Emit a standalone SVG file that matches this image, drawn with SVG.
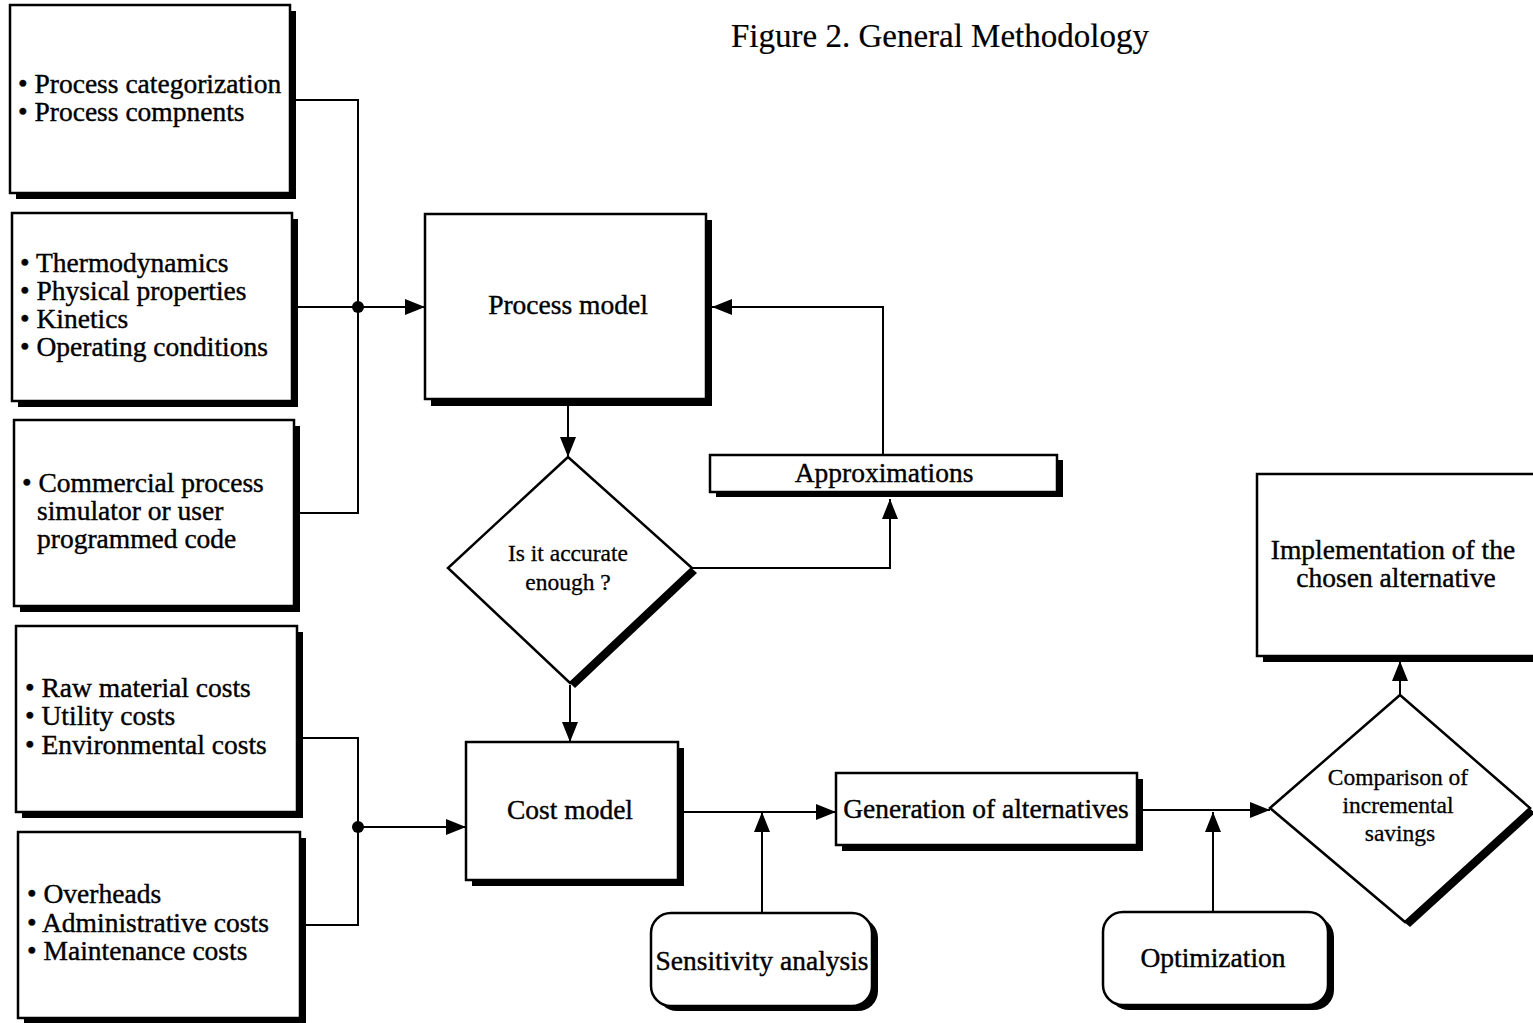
<svg xmlns="http://www.w3.org/2000/svg" width="1533" height="1023" viewBox="0 0 1533 1023">
<defs>
<marker id="arr" viewBox="0 0 20 16" refX="20" refY="8" markerWidth="20" markerHeight="16" markerUnits="userSpaceOnUse" orient="auto">
<path d="M0,0 L20,8 L0,16 z" fill="#000"/>
</marker>
</defs>
<style>
.box{fill:#fff;stroke:#000;stroke-width:2.5}
.sh{fill:#000}
.t{font-family:"Liberation Serif","Times New Roman",serif;font-size:27.5px;fill:#000;stroke:#000;stroke-width:0.4}
.s{font-family:"Liberation Serif","Times New Roman",serif;font-size:23.5px;fill:#000;stroke:#000;stroke-width:0.3}
.c{text-anchor:middle}
.w{fill:none;stroke:#000;stroke-width:2}
</style>
<rect width="1533" height="1023" fill="#fff"/>
<text class="t" x="731" y="47" style="font-size:33px;stroke-width:0.2">Figure 2. General Methodology</text>

<g id="connectors">
<path class="w" d="M296,100 H358 V513 H300"/>
<path class="w" d="M298,307 H358"/>
<path class="w" d="M358,307 H425" marker-end="url(#arr)"/>
<circle cx="358" cy="307" r="6" fill="#000"/>
<path class="w" d="M303,738 H358 V925 H306"/>
<path class="w" d="M358,827 H466" marker-end="url(#arr)"/>
<circle cx="358" cy="827" r="6" fill="#000"/>
<path class="w" d="M568,406 V457" marker-end="url(#arr)"/>
<path class="w" d="M570,685 V742" marker-end="url(#arr)"/>
<path class="w" d="M692,568 H890 V499" marker-end="url(#arr)"/>
<path class="w" d="M883,455 V307 H712" marker-end="url(#arr)"/>
<path class="w" d="M684,812 H836" marker-end="url(#arr)"/>
<path class="w" d="M762,913 V812" marker-end="url(#arr)"/>
<path class="w" d="M1143,810 H1270" marker-end="url(#arr)"/>
<path class="w" d="M1213,912 V812" marker-end="url(#arr)"/>
<path class="w" d="M1400,695 V661" marker-end="url(#arr)"/>
</g>

<g id="n1">
<rect class="sh" x="16" y="11" width="280" height="188"/>
<rect class="box" x="10" y="5" width="280" height="188"/>
<text class="t" x="18" y="93">• Process categorization</text>
<text class="t" x="18" y="121">• Process compnents</text>
</g>
<g id="n2">
<rect class="sh" x="18" y="219" width="280" height="188"/>
<rect class="box" x="12" y="213" width="280" height="188"/>
<text class="t" x="20" y="272">• Thermodynamics</text>
<text class="t" x="20" y="300">• Physical properties</text>
<text class="t" x="20" y="328">• Kinetics</text>
<text class="t" x="20" y="356">• Operating conditions</text>
</g>
<g id="n3">
<rect class="sh" x="20" y="426" width="280" height="186"/>
<rect class="box" x="14" y="420" width="280" height="186"/>
<text class="t" x="22" y="492">• Commercial process</text>
<text class="t" x="37" y="520">simulator or user</text>
<text class="t" x="37" y="548">programmed code</text>
</g>
<g id="n4">
<rect class="sh" x="22" y="632" width="281" height="186"/>
<rect class="box" x="16" y="626" width="281" height="186"/>
<text class="t" x="25" y="697">• Raw material costs</text>
<text class="t" x="25" y="725">• Utility costs</text>
<text class="t" x="25" y="754">• Environmental costs</text>
</g>
<g id="n5">
<rect class="sh" x="24" y="838" width="282" height="186"/>
<rect class="box" x="18" y="832" width="282" height="186"/>
<text class="t" x="27" y="903">• Overheads</text>
<text class="t" x="27" y="932">• Administrative costs</text>
<text class="t" x="27" y="960">• Maintenance costs</text>
</g>
<g id="process-model">
<rect class="sh" x="431" y="220" width="281" height="186"/>
<rect class="box" x="425" y="214" width="281" height="185"/>
<text class="t c" x="568" y="314">Process model</text>
</g>
<g id="accurate">
<polygon class="sh" points="573,462 697,573 575,688 453,573"/>
<polygon class="box" points="568,457 692,568 570,683 448,568"/>
<text class="s c" x="568" y="561">Is it accurate</text>
<text class="s c" x="568" y="590">enough ?</text>
</g>
<g id="approximations">
<rect class="sh" x="716" y="460" width="347" height="37"/>
<rect class="box" x="710" y="455" width="347" height="37"/>
<text class="t c" x="884" y="482">Approximations</text>
</g>
<g id="cost-model">
<rect class="sh" x="472" y="748" width="212" height="138"/>
<rect class="box" x="466" y="742" width="212" height="138"/>
<text class="t c" x="570" y="819">Cost model</text>
</g>
<g id="generation">
<rect class="sh" x="842" y="779" width="301" height="72"/>
<rect class="box" x="836" y="773" width="301" height="72"/>
<text class="t c" x="986" y="818">Generation of alternatives</text>
</g>
<g id="comparison">
<polygon class="sh" points="1405,700 1535,813 1410,927 1275,813"/>
<polygon class="box" points="1400,695 1530,808 1405,922 1270,808"/>
<text class="s c" x="1398" y="785">Comparison of</text>
<text class="s c" x="1398" y="813">incremental</text>
<text class="s c" x="1400" y="841">savings</text>
</g>
<g id="implementation">
<rect class="sh" x="1263" y="479" width="290" height="183"/>
<rect class="box" x="1257" y="474" width="290" height="182"/>
<text class="t c" x="1393" y="559">Implementation of the</text>
<text class="t c" x="1396" y="587">chosen alternative</text>
</g>
<g id="sensitivity">
<rect class="sh" x="657" y="918" width="221" height="93" rx="20"/>
<rect class="box" x="651" y="913" width="221" height="93" rx="20"/>
<text class="t c" x="762" y="970">Sensitivity analysis</text>
</g>
<g id="optimization">
<rect class="sh" x="1109" y="917" width="225" height="93" rx="20"/>
<rect class="box" x="1103" y="912" width="225" height="93" rx="20"/>
<text class="t c" x="1213" y="967">Optimization</text>
</g>
</svg>
